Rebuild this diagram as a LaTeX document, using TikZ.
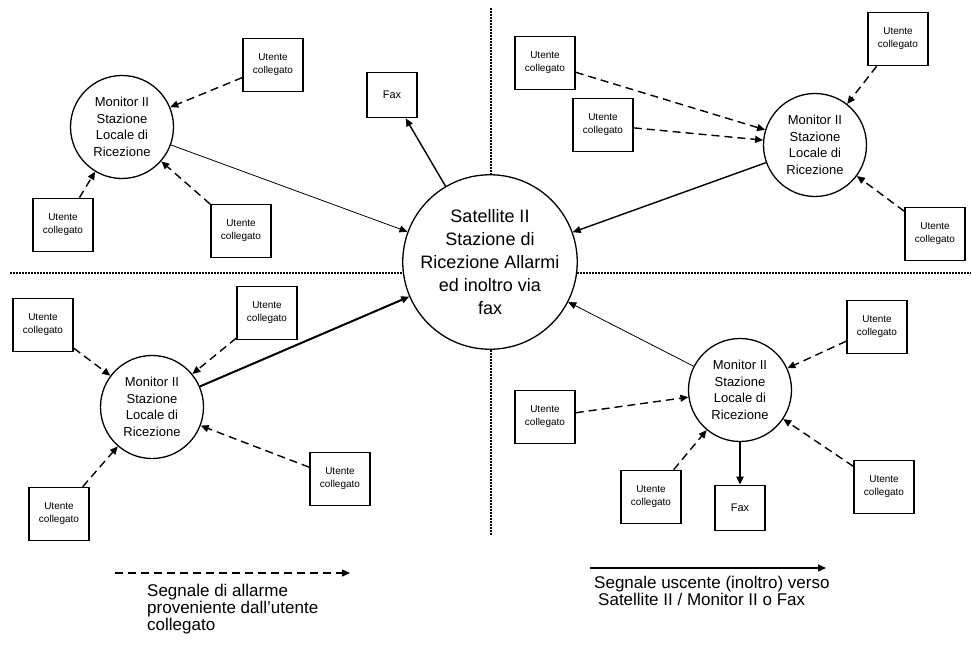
\documentclass[tikz,border=0pt]{standalone}
\usepackage{fontspec}
\setmainfont{Liberation Sans}
\usetikzlibrary{arrows.meta}

\begin{document}
\begin{tikzpicture}[x=1pt,y=1pt,
  utente/.style={draw, line width=1.6pt, fill=white, minimum width=60pt, minimum height=53pt, inner sep=0pt, align=center, font=\fontsize{10}{13}\selectfont},
  fax/.style={utente, minimum width=50pt, minimum height=45pt, font=\fontsize{11}{13}\selectfont},
  monitor/.style={circle, draw, line width=1.3pt, fill=white, minimum size=103pt, inner sep=0pt, align=center, font=\fontsize{13}{16.5}\selectfont},
  satellite/.style={monitor, minimum size=174pt, font=\fontsize{18}{23}\selectfont},
  allarme/.style={-{Triangle[length=8pt,width=7pt]}, line width=1.4pt, dash pattern=on 8pt off 5pt},
  inoltro/.style={-{Triangle[length=8pt,width=7pt]}, line width=1.4pt},
  divisore/.style={line width=1.1pt, dash pattern=on 2pt off 1pt},
  legenda/.style={align=left, inner sep=0pt, font=\fontsize{17}{17}\selectfont}]
\useasboundingbox (0,-652) rectangle (971,0);
% quadranti
\draw[divisore] (10,-273) -- (971,-273);
\draw[divisore] (491,-8) -- (491,-535);

\node[satellite] (sat) at (490,-262) {Satellite II\\Stazione di\\Ricezione Allarmi\\ed inoltro via\\fax};

% alto sinistra
\node[monitor] (monNO) at (122,-127) {Monitor II\\Stazione\\Locale di\\Ricezione};
\node[utente] (uNO1) at (273,-65) {Utente\\collegato};
\node[utente] (uNO2) at (63,-225) {Utente\\collegato};
\node[utente] (uNO3) at (241,-231) {Utente\\collegato};
\node[fax] (faxN) at (392,-95) {Fax};
\draw[allarme] (uNO1) -- (monNO);
\draw[allarme] (uNO2) -- (monNO);
\draw[allarme] (uNO3) -- (monNO);
\draw[inoltro, line width=0.8pt] (monNO) -- (sat);
\draw[inoltro] (sat) -- (faxN);

% alto destra
\node[monitor] (monNE) at (815,-145) {Monitor II\\Stazione\\Locale di\\Ricezione};
\node[utente] (uNE1) at (898,-39) {Utente\\collegato};
\node[utente] (uNE2) at (545,-63) {Utente\\collegato};
\node[utente] (uNE3) at (603,-125) {Utente\\collegato};
\node[utente] (uNE4) at (935,-234) {Utente\\collegato};
\draw[allarme] (uNE1) -- (monNE);
\draw[allarme] (uNE2) -- (monNE);
\draw[allarme] (uNE3) -- (monNE);
\draw[allarme] (uNE4) -- (monNE);
\draw[inoltro] (monNE) -- (sat);

% basso sinistra
\node[monitor] (monSO) at (152,-407) {Monitor II\\Stazione\\Locale di\\Ricezione};
\node[utente] (uSO1) at (43,-325) {Utente\\collegato};
\node[utente] (uSO2) at (267,-313) {Utente\\collegato};
\node[utente] (uSO3) at (340,-479) {Utente\\collegato};
\node[utente] (uSO4) at (59,-514) {Utente\\collegato};
\draw[allarme] (uSO1) -- (monSO);
\draw[allarme] (uSO2) -- (monSO);
\draw[allarme] (uSO3) -- (monSO);
\draw[allarme] (uSO4) -- (monSO);
\draw[inoltro, line width=2pt] (monSO) -- (sat);

% basso destra
\node[monitor] (monSE) at (740,-390) {Monitor II\\Stazione\\Locale di\\Ricezione};
\node[utente] (uSE1) at (877,-327) {Utente\\collegato};
\node[utente] (uSE2) at (545,-417) {Utente\\collegato};
\node[utente] (uSE3) at (651,-497) {Utente\\collegato};
\node[utente] (uSE4) at (884,-487) {Utente\\collegato};
\node[fax] (faxS) at (740,-508) {Fax};
\draw[allarme] (uSE1) -- (monSE);
\draw[allarme] (uSE2) -- (monSE);
\draw[allarme] (uSE3) -- (monSE);
\draw[allarme] (uSE4) -- (monSE);
\draw[inoltro, line width=0.8pt] (monSE) -- (sat);
\draw[inoltro, line width=2pt] (monSE) -- (faxS);

% legenda
\coordinate (legA1) at (115,-573);
\coordinate (legA2) at (350,-573);
\draw[allarme] (legA1) -- (legA2);
\node[legenda, anchor=north west] (legA) at (147,-584) {Segnale di allarme\\proveniente dall'utente\\collegato};
\coordinate (legB1) at (590,-568);
\coordinate (legB2) at (826,-568);
\draw[inoltro] (legB1) -- (legB2);
\node[legenda, anchor=north west] (legB) at (594,-576) {Segnale uscente (inoltro) verso\\\hspace*{4pt}Satellite II / Monitor II o Fax};
\end{tikzpicture}
\end{document}
